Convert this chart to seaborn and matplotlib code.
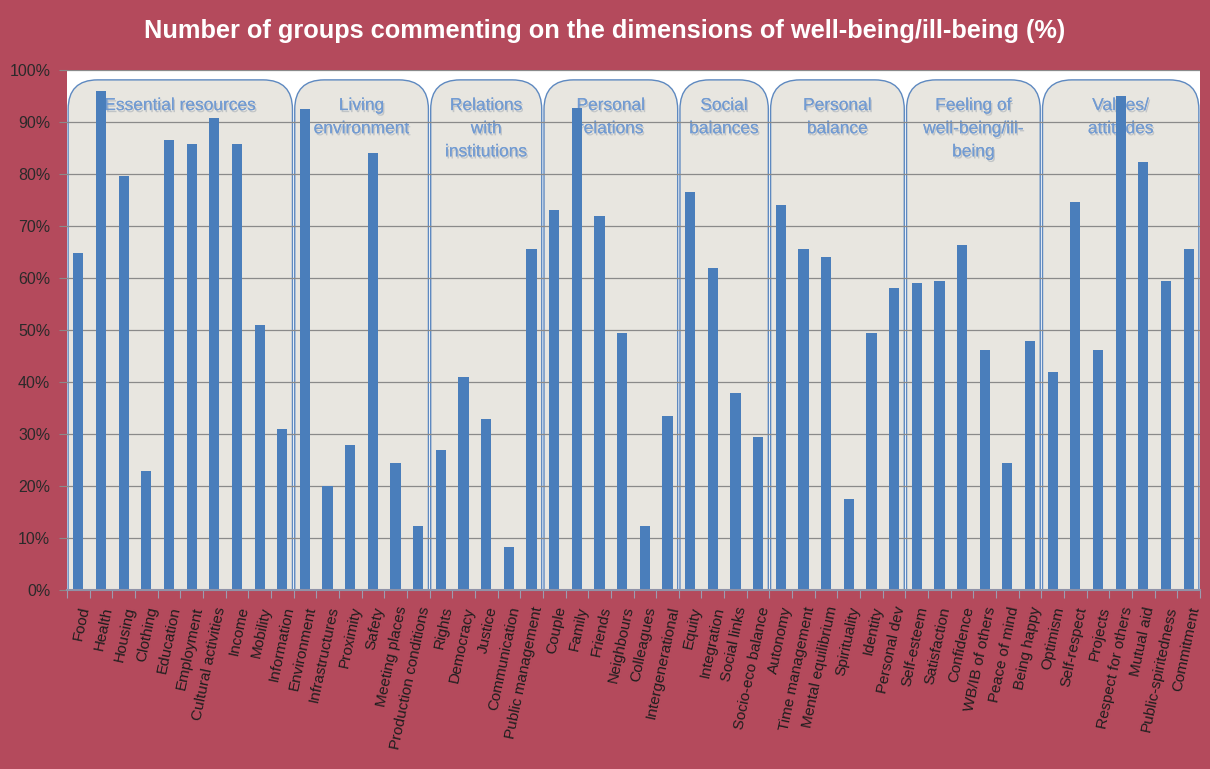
import matplotlib
matplotlib.use("Agg")
import matplotlib.pyplot as plt
from matplotlib.patches import FancyBboxPatch
import matplotlib.patheffects as pe
import seaborn as sns
import pandas as pd
import numpy as np

# Dimensions of well-being, grouped by theme
groups = [
    "Essential resources",
    "Living\nenvironment",
    "Relations\nwith\ninstitutions",
    "Personal\nrelations",
    "Social\nbalances",
    "Personal\nbalance",
    "Feeling of\nwell-being/ill-\nbeing",
    "Values/\nattitudes",
]
group_sizes = [10, 6, 5, 6, 4, 6, 6, 7]

categories = [
    "Food", "Health", "Housing", "Clothing", "Education", "Employment",
    "Cultural activities", "Income", "Mobility", "Information",
    "Environment", "Infrastructures", "Proximity", "Safety", "Meeting places",
    "Production conditions",
    "Rights", "Democracy", "Justice", "Communication", "Public management",
    "Couple", "Family", "Friends", "Neighbours", "Colleagues", "Intergenerational",
    "Equity", "Integration", "Social links", "Socio-eco balance",
    "Autonomy", "Time management", "Mental equilibrium", "Spirituality",
    "Identity", "Personal dev",
    "Self-esteem", "Satisfaction", "Confidence", "WB/IB of others",
    "Peace of mind", "Being happy",
    "Optimism", "Self-respect", "Projects", "Respect for others", "Mutual aid",
    "Public-spiritedness", "Commitment",
]

# Share of groups commenting on each dimension (%)
values = [
    64.8, 95.9, 79.7, 22.8, 86.5, 85.7, 90.7, 85.7, 51.0, 31.0,
    92.5, 20.0, 27.8, 84.0, 24.4, 12.4,
    27.0, 41.0, 32.8, 8.3, 65.5,
    73.0, 92.6, 72.0, 49.4, 12.4, 33.4,
    76.5, 62.0, 37.8, 29.4,
    74.0, 65.5, 64.0, 17.5, 49.4, 58.0,
    59.0, 59.5, 66.4, 46.1, 24.4, 47.9,
    42.0, 74.7, 46.1, 95.0, 82.3, 59.5, 65.5,
]

yticks = list(range(0, 101, 10))
ytick_labels = [f"{v}%" for v in yticks]

BG = "#B44A5C"
BAR = "#4A7EBB"
BOX_FILL = "#E8E6E0"
BOX_EDGE = "#5E89C0"
LABEL = "#729BD2"

df = pd.DataFrame({"dimension": categories, "pct": values})

fig = plt.figure(figsize=(12.10, 7.69), dpi=100, facecolor=BG)
ax = fig.add_axes([67 / 1210, 1 - 590 / 769, (1200 - 67) / 1210, (590 - 70) / 769])
ax.set_facecolor("white")

sns.barplot(data=df, x="dimension", y="pct", order=categories, color=BAR,
            width=0.45, saturation=1, ax=ax, zorder=3)

ax.set_xlim(-0.5, len(categories) - 0.5)
ax.set_ylim(0, 100)

# Rounded theme panels behind the bars
px_x = (1200 - 67) / len(categories)     # pixels per category
px_y = (590 - 70) / 100                  # pixels per percent
r = 1.3
start = 0
for name, n in zip(groups, group_sizes):
    x0 = start - 0.5 + 0.05
    w = n - 0.1
    box = FancyBboxPatch((x0, -10), w, 108.1,
                         boxstyle=f"round,pad=0,rounding_size={r}",
                         mutation_aspect=px_x / px_y,
                         facecolor=BOX_FILL, edgecolor=BOX_EDGE, lw=1.0,
                         zorder=1, clip_on=True)
    ax.add_patch(box)
    ax.text(start + (n - 1) / 2, 94.6, name, ha="center", va="top",
            fontsize=12.5, color=LABEL, linespacing=1.68, zorder=1.5,
            family="Liberation Sans",
            path_effects=[pe.withSimplePatchShadow(offset=(1, -1.5), shadow_rgbFace="#9aa3ad", alpha=0.5),
                          pe.Normal()])
    start += n

for y in yticks[1:]:
    ax.axhline(y, color="#8a8a8a", lw=0.9, zorder=2)

for s in ["top", "right", "left"]:
    ax.spines[s].set_visible(False)
ax.spines["bottom"].set_color("#8f93a8")
ax.spines["bottom"].set_linewidth(1.5)
ax.spines["bottom"].set_zorder(4)

ax.set_yticks(yticks)
ax.set_yticklabels(ytick_labels, fontsize=11.5, color="#2a2a2a", family="Liberation Sans")
ax.tick_params(axis="y", length=6, color="#8a8a8a", pad=6)

ax.set_xticks(range(len(categories)))
ax.set_xticklabels(categories, rotation=78, ha="right", rotation_mode="anchor",
                   fontsize=11, color="#1e1e1e", family="Liberation Sans")
ax.tick_params(axis="x", length=0, pad=11)
ax.set_xticks(np.arange(-0.5, len(categories), 1), minor=True)
ax.tick_params(axis="x", which="minor", length=6, color="#9c9cb0", width=0.8)

ax.set_xlabel("")
ax.set_ylabel("")

fig.text(0.5, 1 - 31 / 769,
         "Number of groups commenting on the dimensions of well-being/ill-being (%)",
         ha="center", va="center", color="white", fontsize=18.3, fontweight="bold",
         family="Liberation Sans")

fig.savefig("out.png", dpi=100, facecolor=BG)
